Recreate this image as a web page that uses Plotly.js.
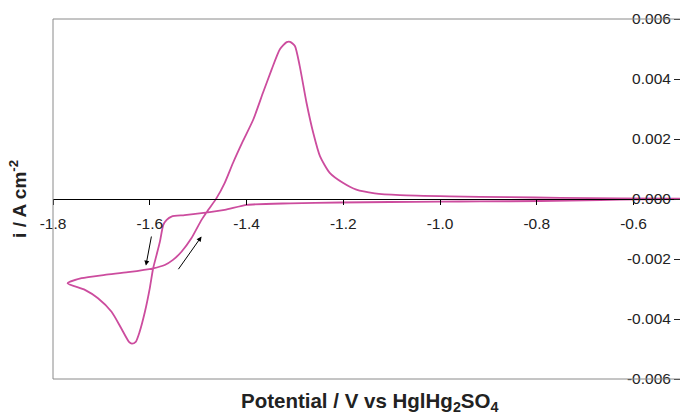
<!DOCTYPE html>
<html>
<head>
<meta charset="utf-8">
<script src="https://cdn.plot.ly/plotly-3.0.1.min.js"></script>
<style>html,body{margin:0;padding:0;background:#fff;}#chart{width:681px;height:416px;}</style>
</head>
<body>
<div id="chart"></div>
<script>
// Potential (V vs Hg|Hg2SO4), cathodic scan from right to vertex, then anodic return
var potential = [
  -0.502, -0.587, -0.669, -0.793, -0.918, -1.000, -1.104, -1.207, -1.310, -1.399,
  -1.445, -1.493, -1.528, -1.555, -1.565, -1.572, -1.579, -1.586, -1.593, -1.600,
  -1.610, -1.621, -1.629, -1.637, -1.643, -1.659, -1.679, -1.707, -1.734, -1.770,
  -1.741, -1.693, -1.645, -1.593, -1.569, -1.552, -1.534, -1.514, -1.493, -1.479,
  -1.462, -1.445, -1.428, -1.408, -1.386, -1.366, -1.348, -1.331, -1.317, -1.310,
  -1.300, -1.290, -1.276, -1.262, -1.248, -1.228, -1.200, -1.173, -1.135, -1.083,
  -0.980, -0.855, -0.752, -0.628, -0.502
];
// Current density (A cm^-2)
var current = [
  -0.000007, -0.000013, -0.000033, -0.000067, -0.00008, -0.000087, -0.0001, -0.000117, -0.000144, -0.000194,
  -0.000361, -0.000471, -0.000538, -0.000585, -0.000695, -0.000862, -0.00142, -0.00187, -0.00231, -0.00298,
  -0.00376, -0.00443, -0.00476, -0.00482, -0.00476, -0.00431, -0.00376, -0.00331, -0.00303, -0.00281,
  -0.00264, -0.00253, -0.00244, -0.00231, -0.0022, -0.00203, -0.00175, -0.00131, -0.000695, -0.000361,
  0.00003, 0.00054, 0.0012, 0.00191, 0.00265, 0.00354, 0.00432, 0.00499, 0.00523, 0.00524,
  0.0051, 0.00443, 0.00321, 0.0022, 0.00142, 0.00087, 0.00053, 0.00031, 0.00019, 0.00013,
  0.00009, 0.00006, 0.00004, 0.00002, 0.00001
];
var xTickVals = [-1.8, -1.6, -1.4, -1.2, -1.0, -0.8, -0.6];
var xTickText = ["-1.8", "-1.6", "-1.4", "-1.2", "-1.0", "-0.8", "-0.6"];
var yTickVals = [-0.006, -0.004, -0.002, 0, 0.002, 0.004, 0.006];
var yTickText = ["-0.006", "-0.004", "-0.002", "0.000", "0.002", "0.004", "0.006"];
// scan-direction arrows: [tailX, tailY, headX, headY]
var arrow1 = [-1.596, -0.0012, -1.608, -0.00222];
var arrow2 = [-1.543, -0.00239, -1.493, -0.00125];

var font = "Liberation Sans, Arial, sans-serif";
var trace = {
  x: potential, y: current, mode: "lines", type: "scatter",
  line: {color: "#cc4c9e", width: 1.8, shape: "spline", smoothing: 0.6},
  hoverinfo: "skip", showlegend: false
};
function arrowAnn(a) {
  return {x: a[2], y: a[3], ax: a[0], ay: a[1], xref: "x", yref: "y", axref: "x", ayref: "y",
    showarrow: true, arrowhead: 2, arrowsize: 1, arrowwidth: 1, arrowcolor: "#000", text: "", standoff: 0};
}
var layout = {
  width: 681, height: 416,
  margin: {l: 53, r: 1, t: 19, b: 37},
  paper_bgcolor: "#fff", plot_bgcolor: "#fff",
  showlegend: false,
  xaxis: {
    range: [-1.8, -0.504], anchor: "free", position: 0.5,
    tickvals: xTickVals, ticktext: xTickText,
    ticks: "outside", ticklen: 5, tickwidth: 1, tickcolor: "#000",
    showline: true, linecolor: "#000", linewidth: 1,
    showgrid: false, zeroline: false,
    tickfont: {family: font, size: 15.5, color: "#222"},
    ticklabelstandoff: 5
  },
  yaxis: {
    range: [-0.006, 0.006], side: "left", anchor: "free", position: 1,
    tickvals: yTickVals, ticktext: yTickText,
    ticks: "outside", ticklen: 6, tickwidth: 1, tickcolor: "#222",
    showline: false, showgrid: false, zeroline: false,
    tickfont: {family: font, size: 15.5, color: "#222"}
  },
  shapes: [
    {type: "line", xref: "paper", yref: "paper", x0: 0, x1: 0, y0: 0, y1: 1, line: {color: "#8a8a8a", width: 1}},
    {type: "line", xref: "paper", yref: "paper", x0: 0, x1: 1, y0: 1, y1: 1, line: {color: "#8a8a8a", width: 1}},
    {type: "line", xref: "paper", yref: "paper", x0: 0, x1: 1, y0: 0, y1: 0, line: {color: "#8a8a8a", width: 1}}
  ],
  annotations: [
    arrowAnn(arrow1), arrowAnn(arrow2),
    {xref: "paper", yref: "paper", x: 0.504, y: -0.063, xanchor: "center", yanchor: "middle", showarrow: false,
     text: "<b>Potential / V vs HglHg<sub>2</sub>SO<sub>4</sub></b>", font: {family: font, size: 20.5, color: "#222"}},
    {xref: "paper", yref: "paper", x: -0.056, y: 0.5, xanchor: "center", yanchor: "middle", showarrow: false, textangle: -90,
     text: "<b>i / A cm<sup>-2</sup></b>", font: {family: font, size: 19, color: "#222"}}
  ]
};
Plotly.newPlot("chart", [trace], layout, {staticPlot: true, displayModeBar: false});
</script>
</body>
</html>
